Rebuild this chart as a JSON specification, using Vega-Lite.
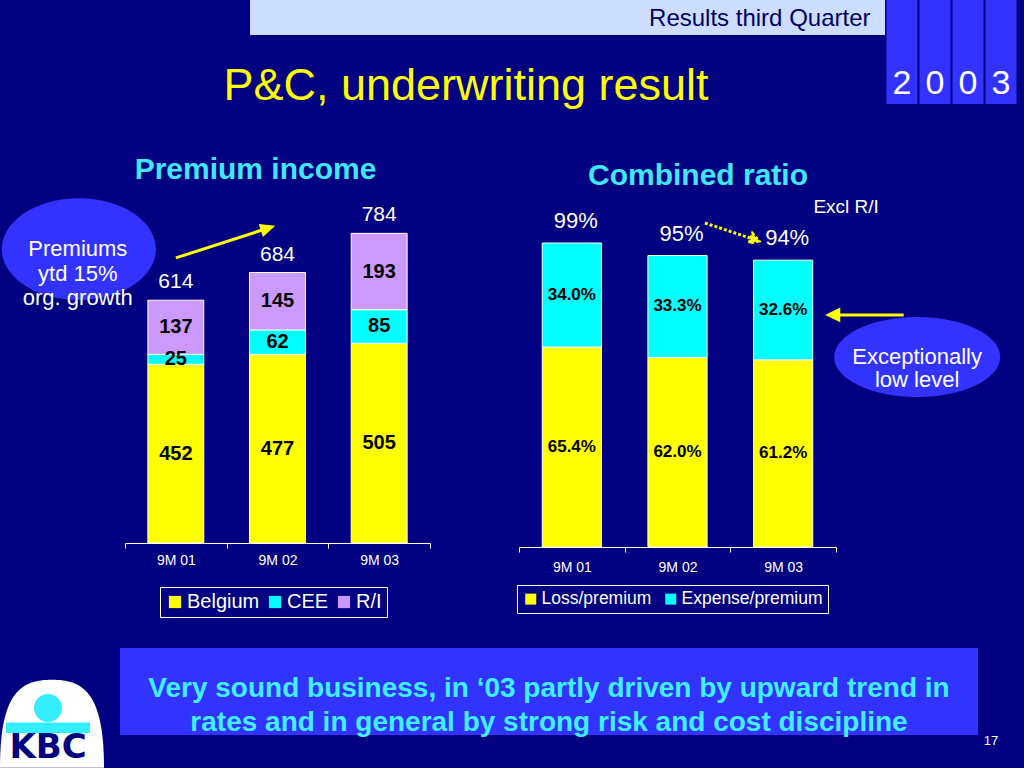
{
  "$schema": "https://vega.github.io/schema/vega-lite/v6.json",
  "background": "#000080",
  "padding": 0,
  "spacing": 0,
  "config": {
    "font": "Liberation Sans",
    "view": {"stroke": null, "fill": "#000080"},
    "concat": {"spacing": 0}
  },
  "vconcat": [
    {
      "spacing": 0,
      "hconcat": [
        {
          "spacing": 0,
          "vconcat": [
            {
              "bounds": "flush",
              "spacing": 0,
              "hconcat": [
                {"width": 250, "height": 35, "data": {"values": []}, "mark": "point"},
                {
                  "width": 635,
                  "height": 35,
                  "view": {"fill": "#CCDDFF", "stroke": null},
                  "data": {"values": [{"label": "Results third Quarter"}]},
                  "mark": {"type": "text", "align": "right", "baseline": "middle", "dx": 303, "dy": 1, "fontSize": 24, "color": "#000066"},
                  "encoding": {"text": {"field": "label"}}
                }
              ]
            },
            {
              "width": 885,
              "height": 85,
              "data": {"values": [{"label": "P&C, underwriting result"}]},
              "mark": {"type": "text", "align": "center", "baseline": "alphabetic", "dx": 23.5, "dy": 22.5, "fontSize": 45, "color": "#FFFF00"},
              "encoding": {"text": {"field": "label"}}
            }
          ]
        },
        {
          "width": 133,
          "height": 104,
          "data": {"values": [{"pos": 1, "digit": "2"}, {"pos": 2, "digit": "0"}, {"pos": 3, "digit": "0"}, {"pos": 4, "digit": "3"}]},
          "encoding": {"x": {"field": "pos", "type": "ordinal", "axis": null, "scale": {"type": "band", "paddingInner": 0.06, "paddingOuter": 0.045}}},
          "layer": [
            {"mark": {"type": "rect", "fill": "#3333FF"}},
            {"mark": {"type": "text", "baseline": "alphabetic", "dy": 42, "fontSize": 34, "color": "white"}, "encoding": {"text": {"field": "digit"}}}
          ]
        }
      ]
    },
    {
      "bounds": "flush",
      "spacing": 0,
      "hconcat": [
        {"width": 125, "height": 75, "data": {"values": []}, "mark": "point"},
        {
          "width": 305,
          "height": 75,
          "data": {"values": [{"label": "Premium income"}]},
          "mark": {"type": "text", "fontSize": 30, "fontWeight": "bold", "color": "#40E8FF", "baseline": "alphabetic", "dx": -22, "dy": 21.5},
          "encoding": {"text": {"field": "label"}}
        },
        {"width": 89, "height": 75, "data": {"values": []}, "mark": "point"},
        {
          "width": 317,
          "height": 75,
          "data": {"values": [{"label": "Combined ratio"}]},
          "mark": {"type": "text", "fontSize": 30, "fontWeight": "bold", "color": "#40E8FF", "baseline": "alphabetic", "dx": 20.5, "dy": 27.5},
          "encoding": {"text": {"field": "label"}}
        },
        {"width": 188, "height": 75, "data": {"values": []}, "mark": "point"}
      ]
    },
    {
      "bounds": "flush",
      "spacing": 0,
      "resolve": {"scale": {"color": "independent"}, "legend": {"color": "independent"}},
      "hconcat": [
        {"width": 125, "height": 453, "data": {"values": []}, "mark": "point"},
        {
          "width": 305,
          "height": 348,
          "layer": [
            {
              "data": {"values": [
                {"period": "9M 01", "region": "Belgium", "value": 452},
                {"period": "9M 01", "region": "CEE", "value": 25},
                {"period": "9M 01", "region": "R/I", "value": 137},
                {"period": "9M 02", "region": "Belgium", "value": 477},
                {"period": "9M 02", "region": "CEE", "value": 62},
                {"period": "9M 02", "region": "R/I", "value": 145},
                {"period": "9M 03", "region": "Belgium", "value": 505},
                {"period": "9M 03", "region": "CEE", "value": 85},
                {"period": "9M 03", "region": "R/I", "value": 193}
              ]},
              "transform": [
                {"stack": "value", "groupby": ["period"], "sort": [{"field": "region", "order": "ascending"}], "as": ["v0", "v1"]},
                {"calculate": "(datum.v0 + datum.v1) / 2", "as": "mid"}
              ],
              "layer": [
                {
                  "mark": {"type": "bar", "stroke": "white", "strokeWidth": 1, "width": {"band": 0.55}},
                  "encoding": {
                    "x": {"field": "period", "type": "nominal", "scale": {"type": "band", "paddingInner": 0, "paddingOuter": 0},
                      "axis": {"title": null, "labelAngle": 0, "labelColor": "white", "labelFontSize": 14, "domainColor": "white", "tickColor": "white", "tickSize": 5, "labelPadding": 5, "tickBand": "extent", "grid": false}},
                    "y": {"field": "v1", "type": "quantitative", "scale": {"domain": [0, 880], "nice": false, "zero": true}, "axis": null},
                    "y2": {"field": "v0"},
                    "color": {"field": "region", "type": "nominal",
                      "scale": {"domain": ["Belgium", "CEE", "R/I"], "range": ["#FFFF00", "#00FFFF", "#CC99FF"]},
                      "legend": {"orient": "none", "legendX": 35, "legendY": 392, "direction": "horizontal", "title": null, "symbolType": "square", "symbolSize": 150, "symbolStrokeWidth": 0, "labelFontSize": 20, "labelColor": "white", "strokeColor": "white", "padding": 5, "columnPadding": 5, "labelOffset": 2}}
                  }
                },
                {
                  "mark": {"type": "text", "fontSize": 20, "fontWeight": "bold", "color": "black", "baseline": "middle"},
                  "encoding": {
                    "x": {"field": "period", "type": "nominal"},
                    "y": {"field": "mid", "type": "quantitative"},
                    "text": {"field": "value", "type": "quantitative"}
                  }
                }
              ]
            },
            {
              "data": {"values": [{"period": "9M 01", "total": 614}, {"period": "9M 02", "total": 684}, {"period": "9M 03", "total": 784}]},
              "mark": {"type": "text", "fontSize": 21, "color": "white", "baseline": "alphabetic", "dy": -12},
              "encoding": {
                "x": {"field": "period", "type": "nominal"},
                "y": {"field": "total", "type": "quantitative"},
                "text": {"field": "total", "type": "quantitative"}
              }
            },
            {
              "data": {"values": [{"note": "Premiums\nytd 15%\norg. growth"}]},
              "layer": [
                {
                  "mark": {"type": "point", "shape": "M-1,0C-1,-0.365 -0.552,-0.66 0,-0.66C0.552,-0.66 1,-0.365 1,0C1,0.365 0.552,0.66 0,0.66C-0.552,0.66 -1,0.365 -1,0Z", "size": 23716, "filled": true, "fill": "#3333FF", "opacity": 1, "strokeWidth": 0, "xOffset": -97},
                  "encoding": {"x": {"datum": "9M 01"}, "y": {"datum": 743}}
                },
                {
                  "mark": {"type": "text", "lineBreak": "\n", "lineHeight": 24.5, "fontSize": 22, "color": "white", "baseline": "middle", "dx": -98},
                  "encoding": {"x": {"datum": "9M 01"}, "y": {"datum": 743}, "text": {"field": "note"}}
                }
              ]
            },
            {
              "data": {"values": [{"arrow": "growth"}]},
              "mark": {"type": "point", "shape": "M-0.951,0.307L0.761,-0.246M0.951,-0.307L0.789,-0.16L0.733,-0.332Z", "size": 10180, "filled": true, "fill": "#FFFF00", "stroke": "#FFFF00", "strokeWidth": 3, "opacity": 1, "xOffset": 48},
              "encoding": {"x": {"datum": "9M 01"}, "y": {"datum": 760}}
            }
          ]
        },
        {"width": 89, "height": 10, "data": {"values": []}, "mark": "point"},
        {
          "width": 317,
          "height": 352,
          "layer": [
            {
              "data": {"values": [
                {"period": "9M 01", "component": "Loss/premium", "value": 0.654},
                {"period": "9M 01", "component": "Expense/premium", "value": 0.340},
                {"period": "9M 02", "component": "Loss/premium", "value": 0.620},
                {"period": "9M 02", "component": "Expense/premium", "value": 0.333},
                {"period": "9M 03", "component": "Loss/premium", "value": 0.612},
                {"period": "9M 03", "component": "Expense/premium", "value": 0.326}
              ]},
              "transform": [
                {"stack": "value", "groupby": ["period"], "sort": [{"field": "component", "order": "descending"}], "as": ["v0", "v1"]},
                {"calculate": "(datum.v0 + datum.v1) / 2", "as": "mid"}
              ],
              "layer": [
                {
                  "mark": {"type": "bar", "stroke": "white", "strokeWidth": 1, "width": {"band": 0.56}},
                  "encoding": {
                    "x": {"field": "period", "type": "nominal", "scale": {"type": "band", "paddingInner": 0, "paddingOuter": 0},
                      "axis": {"title": null, "labelAngle": 0, "labelColor": "white", "labelFontSize": 14, "domainColor": "white", "tickColor": "white", "tickSize": 5, "labelPadding": 8, "tickBand": "extent", "grid": false}},
                    "y": {"field": "v1", "type": "quantitative", "scale": {"domain": [0, 1.151], "nice": false, "zero": true}, "axis": null},
                    "y2": {"field": "v0"},
                    "color": {"field": "component", "type": "nominal",
                      "scale": {"domain": ["Loss/premium", "Expense/premium"], "range": ["#FFFF00", "#00FFFF"]},
                      "legend": {"orient": "none", "legendX": -2, "legendY": 390, "direction": "horizontal", "title": null, "symbolType": "square", "symbolSize": 121, "symbolStrokeWidth": 0, "labelFontSize": 17.5, "labelColor": "white", "strokeColor": "white", "padding": 5, "columnPadding": 10, "labelOffset": 2}}
                  }
                },
                {
                  "mark": {"type": "text", "fontSize": 17, "fontWeight": "bold", "color": "black", "baseline": "middle"},
                  "encoding": {
                    "x": {"field": "period", "type": "nominal"},
                    "y": {"field": "mid", "type": "quantitative"},
                    "text": {"field": "value", "type": "quantitative", "format": ".1%"}
                  }
                }
              ]
            },
            {
              "data": {"values": [{"period": "9M 01", "total": 0.994}, {"period": "9M 02", "total": 0.953}, {"period": "9M 03", "total": 0.938}]},
              "mark": {"type": "text", "fontSize": 22, "color": "white", "baseline": "alphabetic", "dy": -15, "dx": 4},
              "encoding": {
                "x": {"field": "period", "type": "nominal"},
                "y": {"field": "total", "type": "quantitative"},
                "text": {"field": "total", "type": "quantitative", "format": ".0%"}
              }
            },
            {
              "data": {"values": [{"arrow": "trend"}]},
              "mark": {"type": "point", "shape": "M-0.949,-0.316L0.664,0.221M0.949,0.316L0.607,0.392L0.721,0.05Z", "size": 3238, "filled": true, "fill": "#FFFF00", "stroke": "#FFFF00", "strokeWidth": 3, "strokeDash": [3, 2], "opacity": 1, "xOffset": 54.4},
              "encoding": {"x": {"datum": "9M 02"}, "y": {"datum": 1.03}}
            },
            {
              "data": {"values": [{"note": "Excl R/I"}]},
              "mark": {"type": "text", "fontSize": 19, "color": "white", "baseline": "middle", "dx": 63},
              "encoding": {"x": {"datum": "9M 03"}, "y": {"datum": 1.112}, "text": {"field": "note"}}
            },
            {
              "data": {"values": [{"arrow": "low"}]},
              "mark": {"type": "point", "shape": "M1,0L-0.75,0M-1,0L-0.73,-0.13L-0.73,0.13Z", "size": 5625, "filled": true, "fill": "#FFFF00", "stroke": "#FFFF00", "strokeWidth": 3, "opacity": 1, "xOffset": 83},
              "encoding": {"x": {"datum": "9M 03"}, "y": {"datum": 0.759}}
            },
            {
              "data": {"values": [{"note": "Exceptionally\nlow level"}]},
              "layer": [
                {
                  "mark": {"type": "point", "shape": "M-1,0C-1,-0.266 -0.552,-0.482 0,-0.482C0.552,-0.482 1,-0.266 1,0C1,0.266 0.552,0.482 0,0.482C-0.552,0.482 -1,0.266 -1,0Z", "size": 27556, "filled": true, "fill": "#3333FF", "opacity": 1, "strokeWidth": 0, "xOffset": 134},
                  "encoding": {"x": {"datum": "9M 03"}, "y": {"datum": 0.621}}
                },
                {
                  "mark": {"type": "text", "lineBreak": "\n", "lineHeight": 23, "fontSize": 22, "color": "white", "baseline": "middle", "dx": 134},
                  "encoding": {"x": {"datum": "9M 03"}, "y": {"datum": 0.621}, "text": {"field": "note"}}
                }
              ]
            }
          ]
        },
        {"width": 188, "height": 453, "data": {"values": []}, "mark": "point"}
      ]
    },
    {
      "spacing": 0,
      "hconcat": [
        {
          "bounds": "flush",
          "spacing": 0,
          "vconcat": [
            {"width": 104, "height": 32, "data": {"values": []}, "mark": "point"},
            {
              "width": 104,
              "height": 88,
              "data": {"values": [{"brand": "KBC"}]},
              "layer": [
                {"mark": {"type": "point", "shape": "M-1,0.84C-1,-0.6 -0.6,-0.85 0,-0.85C0.6,-0.85 1,-0.6 1,0.84Z", "size": 10816, "filled": true, "fill": "white", "opacity": 1, "strokeWidth": 0}},
                {"mark": {"type": "point", "shape": "M-0.346,-0.308C-0.346,-0.456 -0.226,-0.577 -0.077,-0.577C0.072,-0.577 0.192,-0.456 0.192,-0.308C0.192,-0.16 0.072,-0.039 -0.077,-0.039C-0.226,-0.039 -0.346,-0.16 -0.346,-0.308ZM-0.885,-0.03L0.731,-0.03L0.731,0.173L-0.885,0.173Z", "size": 10816, "filled": true, "fill": "#33EEFF", "opacity": 1, "strokeWidth": 0}},
                {"mark": {"type": "text", "font": "DejaVu Sans", "fontWeight": "bold", "fontSize": 34, "color": "#000080", "baseline": "middle", "dx": -4, "dy": 24}, "encoding": {"text": {"field": "brand"}}}
              ]
            }
          ]
        },
        {"width": 16, "height": 120, "data": {"values": []}, "mark": "point"},
        {
          "bounds": "flush",
          "spacing": 0,
          "vconcat": [
            {
              "width": 858,
              "height": 87,
              "view": {"fill": "#3333FF", "stroke": null},
              "data": {"values": [{"msg": "Very sound business, in ‘03 partly driven by upward trend in\nrates and in general by strong risk and cost discipline"}]},
              "mark": {"type": "text", "lineBreak": "\n", "lineHeight": 34, "fontSize": 28, "fontWeight": "bold", "color": "#40F0FF", "baseline": "middle", "dy": -2.5},
              "encoding": {"text": {"field": "msg"}}
            },
            {"width": 858, "height": 33, "data": {"values": []}, "mark": "point"}
          ]
        },
        {
          "width": 46,
          "height": 120,
          "data": {"values": [{"page": "17"}]},
          "mark": {"type": "text", "fontSize": 13, "color": "white", "baseline": "alphabetic", "dx": -10, "dy": 37},
          "encoding": {"text": {"field": "page"}}
        }
      ]
    }
  ]
}
